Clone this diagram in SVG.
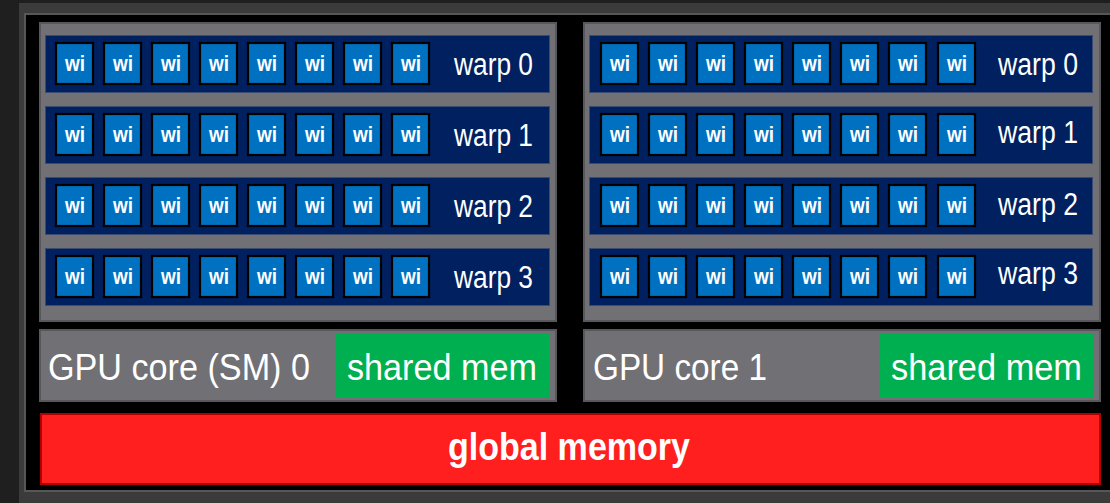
<svg xmlns="http://www.w3.org/2000/svg" width="1110" height="503" viewBox="0 0 1110 503">
<style>
.frame{fill:#3b3b3b}
.inner{fill:#000;stroke:#575757;stroke-width:2}
.panel{fill:#717075;stroke:#58575c;stroke-width:2}
.warp{fill:#002060;stroke:#3a4a70;stroke-width:1}
.wi{fill:#0070c0;stroke:#000;stroke-width:2.2}
.shared{fill:#00b050}
.glob{fill:#ff1f1f;stroke:#b00000;stroke-width:2}
text{font-family:"Liberation Sans",Arial,sans-serif;fill:#fff}
.wt{font-size:22px;font-weight:bold;text-anchor:middle}
.wl{font-size:31px}
.cl{font-size:37px}
.gl{font-size:38px;font-weight:bold;text-anchor:middle}
</style>
<rect x="0" y="0" width="1110" height="503" fill="#1f1f1f"/>
<rect class="frame" x="19" y="3" width="1100" height="510"/>
<rect class="inner" x="25" y="14" width="1095" height="477"/>

<g id="core0">
<rect class="panel" x="40" y="23" width="516" height="298"/>
<g id="core0-warp0">
<rect class="warp" x="45.5" y="35.5" width="504" height="57"/>
<rect class="wi" x="56" y="43" width="37" height="41"/><text class="wt" x="75" y="71" textLength="20" lengthAdjust="spacingAndGlyphs">wi</text>
<rect class="wi" x="104" y="43" width="37" height="41"/><text class="wt" x="123" y="71" textLength="20" lengthAdjust="spacingAndGlyphs">wi</text>
<rect class="wi" x="152" y="43" width="37" height="41"/><text class="wt" x="171" y="71" textLength="20" lengthAdjust="spacingAndGlyphs">wi</text>
<rect class="wi" x="200" y="43" width="37" height="41"/><text class="wt" x="219" y="71" textLength="20" lengthAdjust="spacingAndGlyphs">wi</text>
<rect class="wi" x="248" y="43" width="37" height="41"/><text class="wt" x="267" y="71" textLength="20" lengthAdjust="spacingAndGlyphs">wi</text>
<rect class="wi" x="296" y="43" width="37" height="41"/><text class="wt" x="315" y="71" textLength="20" lengthAdjust="spacingAndGlyphs">wi</text>
<rect class="wi" x="344" y="43" width="37" height="41"/><text class="wt" x="363" y="71" textLength="20" lengthAdjust="spacingAndGlyphs">wi</text>
<rect class="wi" x="392" y="43" width="37" height="41"/><text class="wt" x="411" y="71" textLength="20" lengthAdjust="spacingAndGlyphs">wi</text>
<text class="wl" x="454" y="75" textLength="79" lengthAdjust="spacingAndGlyphs">warp 0</text>
</g>
<g id="core0-warp1">
<rect class="warp" x="45.5" y="106.5" width="504" height="57"/>
<rect class="wi" x="56" y="114" width="37" height="41"/><text class="wt" x="75" y="142" textLength="20" lengthAdjust="spacingAndGlyphs">wi</text>
<rect class="wi" x="104" y="114" width="37" height="41"/><text class="wt" x="123" y="142" textLength="20" lengthAdjust="spacingAndGlyphs">wi</text>
<rect class="wi" x="152" y="114" width="37" height="41"/><text class="wt" x="171" y="142" textLength="20" lengthAdjust="spacingAndGlyphs">wi</text>
<rect class="wi" x="200" y="114" width="37" height="41"/><text class="wt" x="219" y="142" textLength="20" lengthAdjust="spacingAndGlyphs">wi</text>
<rect class="wi" x="248" y="114" width="37" height="41"/><text class="wt" x="267" y="142" textLength="20" lengthAdjust="spacingAndGlyphs">wi</text>
<rect class="wi" x="296" y="114" width="37" height="41"/><text class="wt" x="315" y="142" textLength="20" lengthAdjust="spacingAndGlyphs">wi</text>
<rect class="wi" x="344" y="114" width="37" height="41"/><text class="wt" x="363" y="142" textLength="20" lengthAdjust="spacingAndGlyphs">wi</text>
<rect class="wi" x="392" y="114" width="37" height="41"/><text class="wt" x="411" y="142" textLength="20" lengthAdjust="spacingAndGlyphs">wi</text>
<text class="wl" x="454" y="146" textLength="79" lengthAdjust="spacingAndGlyphs">warp 1</text>
</g>
<g id="core0-warp2">
<rect class="warp" x="45.5" y="177.5" width="504" height="57"/>
<rect class="wi" x="56" y="185" width="37" height="41"/><text class="wt" x="75" y="213" textLength="20" lengthAdjust="spacingAndGlyphs">wi</text>
<rect class="wi" x="104" y="185" width="37" height="41"/><text class="wt" x="123" y="213" textLength="20" lengthAdjust="spacingAndGlyphs">wi</text>
<rect class="wi" x="152" y="185" width="37" height="41"/><text class="wt" x="171" y="213" textLength="20" lengthAdjust="spacingAndGlyphs">wi</text>
<rect class="wi" x="200" y="185" width="37" height="41"/><text class="wt" x="219" y="213" textLength="20" lengthAdjust="spacingAndGlyphs">wi</text>
<rect class="wi" x="248" y="185" width="37" height="41"/><text class="wt" x="267" y="213" textLength="20" lengthAdjust="spacingAndGlyphs">wi</text>
<rect class="wi" x="296" y="185" width="37" height="41"/><text class="wt" x="315" y="213" textLength="20" lengthAdjust="spacingAndGlyphs">wi</text>
<rect class="wi" x="344" y="185" width="37" height="41"/><text class="wt" x="363" y="213" textLength="20" lengthAdjust="spacingAndGlyphs">wi</text>
<rect class="wi" x="392" y="185" width="37" height="41"/><text class="wt" x="411" y="213" textLength="20" lengthAdjust="spacingAndGlyphs">wi</text>
<text class="wl" x="454" y="217" textLength="79" lengthAdjust="spacingAndGlyphs">warp 2</text>
</g>
<g id="core0-warp3">
<rect class="warp" x="45.5" y="248.5" width="504" height="57"/>
<rect class="wi" x="56" y="256" width="37" height="41"/><text class="wt" x="75" y="284" textLength="20" lengthAdjust="spacingAndGlyphs">wi</text>
<rect class="wi" x="104" y="256" width="37" height="41"/><text class="wt" x="123" y="284" textLength="20" lengthAdjust="spacingAndGlyphs">wi</text>
<rect class="wi" x="152" y="256" width="37" height="41"/><text class="wt" x="171" y="284" textLength="20" lengthAdjust="spacingAndGlyphs">wi</text>
<rect class="wi" x="200" y="256" width="37" height="41"/><text class="wt" x="219" y="284" textLength="20" lengthAdjust="spacingAndGlyphs">wi</text>
<rect class="wi" x="248" y="256" width="37" height="41"/><text class="wt" x="267" y="284" textLength="20" lengthAdjust="spacingAndGlyphs">wi</text>
<rect class="wi" x="296" y="256" width="37" height="41"/><text class="wt" x="315" y="284" textLength="20" lengthAdjust="spacingAndGlyphs">wi</text>
<rect class="wi" x="344" y="256" width="37" height="41"/><text class="wt" x="363" y="284" textLength="20" lengthAdjust="spacingAndGlyphs">wi</text>
<rect class="wi" x="392" y="256" width="37" height="41"/><text class="wt" x="411" y="284" textLength="20" lengthAdjust="spacingAndGlyphs">wi</text>
<text class="wl" x="454" y="288" textLength="79" lengthAdjust="spacingAndGlyphs">warp 3</text>
</g>
</g>

<g id="core0-label">
<rect class="panel" x="40" y="330" width="516" height="71"/>
<text class="cl" x="48" y="380" textLength="262" lengthAdjust="spacingAndGlyphs">GPU core (SM) 0</text>
<g id="shared0">
<rect class="shared" x="336" y="333" width="213" height="65"/>
<text class="cl" x="347" y="380" textLength="190" lengthAdjust="spacingAndGlyphs">shared mem</text>
</g>
</g>

<g id="core1">
<rect class="panel" x="584" y="23" width="516" height="298"/>
<g id="core1-warp0">
<rect class="warp" x="589.5" y="35.5" width="503" height="57"/>
<rect class="wi" x="601" y="43" width="37" height="41"/><text class="wt" x="620" y="71" textLength="20" lengthAdjust="spacingAndGlyphs">wi</text>
<rect class="wi" x="649" y="43" width="37" height="41"/><text class="wt" x="668" y="71" textLength="20" lengthAdjust="spacingAndGlyphs">wi</text>
<rect class="wi" x="697" y="43" width="37" height="41"/><text class="wt" x="716" y="71" textLength="20" lengthAdjust="spacingAndGlyphs">wi</text>
<rect class="wi" x="745" y="43" width="37" height="41"/><text class="wt" x="764" y="71" textLength="20" lengthAdjust="spacingAndGlyphs">wi</text>
<rect class="wi" x="793" y="43" width="37" height="41"/><text class="wt" x="812" y="71" textLength="20" lengthAdjust="spacingAndGlyphs">wi</text>
<rect class="wi" x="841" y="43" width="37" height="41"/><text class="wt" x="860" y="71" textLength="20" lengthAdjust="spacingAndGlyphs">wi</text>
<rect class="wi" x="889" y="43" width="37" height="41"/><text class="wt" x="908" y="71" textLength="20" lengthAdjust="spacingAndGlyphs">wi</text>
<rect class="wi" x="938" y="43" width="37" height="41"/><text class="wt" x="957" y="71" textLength="20" lengthAdjust="spacingAndGlyphs">wi</text>
<text class="wl" x="998" y="75" textLength="80" lengthAdjust="spacingAndGlyphs">warp 0</text>
</g>
<g id="core1-warp1">
<rect class="warp" x="589.5" y="106.5" width="503" height="57"/>
<rect class="wi" x="601" y="114" width="37" height="41"/><text class="wt" x="620" y="142" textLength="20" lengthAdjust="spacingAndGlyphs">wi</text>
<rect class="wi" x="649" y="114" width="37" height="41"/><text class="wt" x="668" y="142" textLength="20" lengthAdjust="spacingAndGlyphs">wi</text>
<rect class="wi" x="697" y="114" width="37" height="41"/><text class="wt" x="716" y="142" textLength="20" lengthAdjust="spacingAndGlyphs">wi</text>
<rect class="wi" x="745" y="114" width="37" height="41"/><text class="wt" x="764" y="142" textLength="20" lengthAdjust="spacingAndGlyphs">wi</text>
<rect class="wi" x="793" y="114" width="37" height="41"/><text class="wt" x="812" y="142" textLength="20" lengthAdjust="spacingAndGlyphs">wi</text>
<rect class="wi" x="841" y="114" width="37" height="41"/><text class="wt" x="860" y="142" textLength="20" lengthAdjust="spacingAndGlyphs">wi</text>
<rect class="wi" x="889" y="114" width="37" height="41"/><text class="wt" x="908" y="142" textLength="20" lengthAdjust="spacingAndGlyphs">wi</text>
<rect class="wi" x="938" y="114" width="37" height="41"/><text class="wt" x="957" y="142" textLength="20" lengthAdjust="spacingAndGlyphs">wi</text>
<text class="wl" x="998" y="143" textLength="80" lengthAdjust="spacingAndGlyphs">warp 1</text>
</g>
<g id="core1-warp2">
<rect class="warp" x="589.5" y="177.5" width="503" height="57"/>
<rect class="wi" x="601" y="185" width="37" height="41"/><text class="wt" x="620" y="213" textLength="20" lengthAdjust="spacingAndGlyphs">wi</text>
<rect class="wi" x="649" y="185" width="37" height="41"/><text class="wt" x="668" y="213" textLength="20" lengthAdjust="spacingAndGlyphs">wi</text>
<rect class="wi" x="697" y="185" width="37" height="41"/><text class="wt" x="716" y="213" textLength="20" lengthAdjust="spacingAndGlyphs">wi</text>
<rect class="wi" x="745" y="185" width="37" height="41"/><text class="wt" x="764" y="213" textLength="20" lengthAdjust="spacingAndGlyphs">wi</text>
<rect class="wi" x="793" y="185" width="37" height="41"/><text class="wt" x="812" y="213" textLength="20" lengthAdjust="spacingAndGlyphs">wi</text>
<rect class="wi" x="841" y="185" width="37" height="41"/><text class="wt" x="860" y="213" textLength="20" lengthAdjust="spacingAndGlyphs">wi</text>
<rect class="wi" x="889" y="185" width="37" height="41"/><text class="wt" x="908" y="213" textLength="20" lengthAdjust="spacingAndGlyphs">wi</text>
<rect class="wi" x="938" y="185" width="37" height="41"/><text class="wt" x="957" y="213" textLength="20" lengthAdjust="spacingAndGlyphs">wi</text>
<text class="wl" x="998" y="215" textLength="80" lengthAdjust="spacingAndGlyphs">warp 2</text>
</g>
<g id="core1-warp3">
<rect class="warp" x="589.5" y="248.5" width="503" height="57"/>
<rect class="wi" x="601" y="256" width="37" height="41"/><text class="wt" x="620" y="284" textLength="20" lengthAdjust="spacingAndGlyphs">wi</text>
<rect class="wi" x="649" y="256" width="37" height="41"/><text class="wt" x="668" y="284" textLength="20" lengthAdjust="spacingAndGlyphs">wi</text>
<rect class="wi" x="697" y="256" width="37" height="41"/><text class="wt" x="716" y="284" textLength="20" lengthAdjust="spacingAndGlyphs">wi</text>
<rect class="wi" x="745" y="256" width="37" height="41"/><text class="wt" x="764" y="284" textLength="20" lengthAdjust="spacingAndGlyphs">wi</text>
<rect class="wi" x="793" y="256" width="37" height="41"/><text class="wt" x="812" y="284" textLength="20" lengthAdjust="spacingAndGlyphs">wi</text>
<rect class="wi" x="841" y="256" width="37" height="41"/><text class="wt" x="860" y="284" textLength="20" lengthAdjust="spacingAndGlyphs">wi</text>
<rect class="wi" x="889" y="256" width="37" height="41"/><text class="wt" x="908" y="284" textLength="20" lengthAdjust="spacingAndGlyphs">wi</text>
<rect class="wi" x="938" y="256" width="37" height="41"/><text class="wt" x="957" y="284" textLength="20" lengthAdjust="spacingAndGlyphs">wi</text>
<text class="wl" x="998" y="284" textLength="80" lengthAdjust="spacingAndGlyphs">warp 3</text>
</g>
</g>

<g id="core1-label">
<rect class="panel" x="584" y="330" width="516" height="71"/>
<text class="cl" x="593" y="380" textLength="174" lengthAdjust="spacingAndGlyphs">GPU core 1</text>
<g id="shared1">
<rect class="shared" x="880" y="333" width="214" height="65"/>
<text class="cl" x="891" y="380" textLength="191" lengthAdjust="spacingAndGlyphs">shared mem</text>
</g>
</g>

<g id="global-memory">
<rect class="glob" x="41" y="414" width="1059" height="70"/>
<text class="gl" x="569" y="460" textLength="242" lengthAdjust="spacingAndGlyphs">global memory</text>
</g>

<g id="connectors"></g>
</svg>
